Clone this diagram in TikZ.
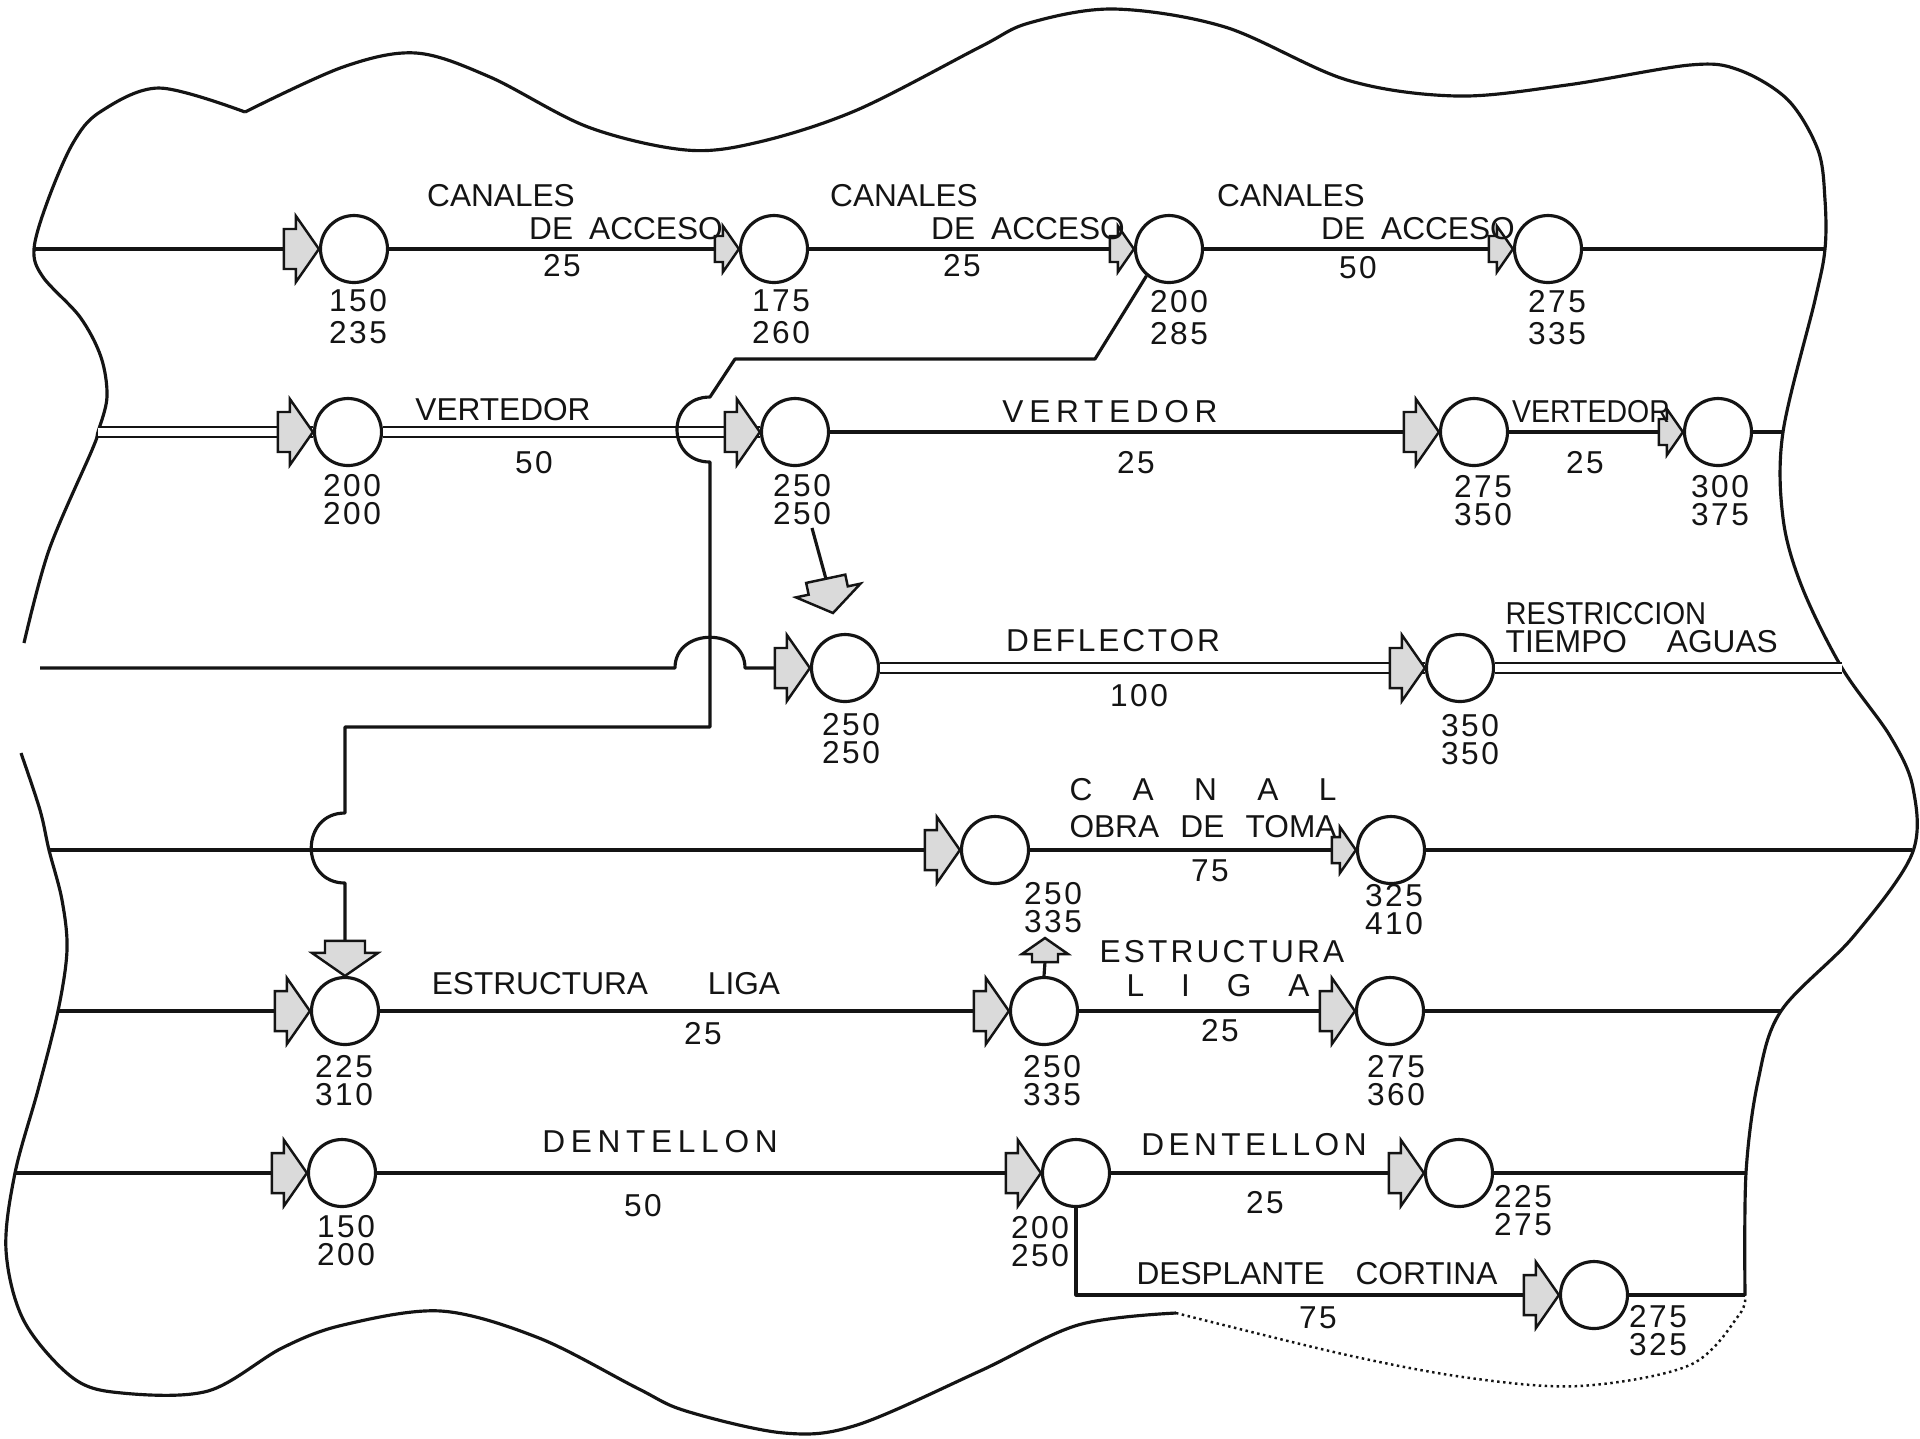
\documentclass[tikz,border=0pt]{standalone}
\usepackage{fontspec}
\newfontfamily\netfont{Liberation Sans}
\newfontfamily\netnumfont[LetterSpace=8]{Liberation Sans}
\definecolor{netInk}{HTML}{141414}
\definecolor{netSpeck}{HTML}{DADADA}
\tikzset{
  every picture/.style={font=\netfont\fontsize{9}{9}\selectfont, text=netInk},
  net event/.style={circle, draw=netInk, line width=0.9pt, fill=white,
    minimum size=6.7mm, inner sep=0pt},
  net line/.style={draw=netInk, line width=0.9pt, line join=round},
  net double/.style={draw=netInk, line width=0.25mm, double=white,
    double distance=0.75mm},
  net border/.style={draw=netInk, line width=0.9pt},
  net faint/.style={draw=netInk, line width=0.7pt, densely dotted},
  net num/.style={font=\netnumfont\fontsize{9}{#1}\selectfont,
    align=center, inner sep=0pt},
  net num/.default=8pt,
  net label/.style={inner sep=0pt},
  net mark/.style={draw=netInk, line width=0.7pt, fill=netSpeck},
  mark big/.pic={\path[net mark] (0,0) -- (-23,33) -- (-23,20) -- (-35,20)
    -- (-35,-20) -- (-23,-20) -- (-23,-33) -- cycle;},
  mark small/.pic={\path[net mark] (0,0) -- (-16,23) -- (-16,13) -- (-24,13)
    -- (-24,-13) -- (-16,-13) -- (-16,-23) -- cycle;}
}

\begin{document}
\begin{tikzpicture}[x=0.1mm,y=-0.1mm]
  \fill[white] (0,0) rectangle (1920,1438);
  \useasboundingbox (0,0) rectangle (1920,1438);

  % outline of the site
  \draw[net border] plot[smooth, tension=0.55] coordinates {(245,112) (159,88)
    (100,112) (73,143) (48,200) (34,249) (43,277) (80,317) (101,357) (107,397)
    (98,432) (92,450) (49,550) (24,643)};
  \draw[net border] plot[smooth, tension=0.55] coordinates {(245,112) (343,67)
    (416,53) (490,77) (588,127) (686,150) (759,142) (857,110) (980,47) (1029,23)
    (1114,9) (1225,27) (1347,80) (1457,96) (1567,85) (1690,65) (1739,70)
    (1788,100) (1818,150) (1825,200) (1825,249) (1815,300) (1783,432) (1783,518)
    (1802,587) (1842,668) (1890,736) (1913,788) (1912,854) (1853,937) (1781,1011)
    (1758,1081) (1746,1173) (1745,1295)};
  \draw[net border] plot[smooth, tension=0.55] coordinates {(21,753) (40,810)
    (49,850) (62,900) (67,950) (58,1011) (38,1090) (15,1173) (6,1250) (24,1321)
    (73,1378) (122,1393) (208,1391) (282,1348) (343,1325) (441,1311) (539,1338)
    (637,1388) (686,1411) (784,1433) (857,1425) (980,1371) (1078,1325) (1176,1313)};
  \draw[net faint] plot[smooth, tension=0.55] coordinates {(1176,1313) (1347,1355)
    (1470,1378) (1580,1386) (1690,1365) (1739,1315) (1745,1295)};

  % events
  \foreach \n/\x/\y in {A1/354/249, A2/774/249, A3/1169/249, A4/1548/249,
      B1/348/432, B2/795/432, B3/1474/432, B4/1718/432,
      C1/845/668, C2/1460/668, D1/995/850, D2/1391/850,
      E1/345/1011, E2/1044/1011, E3/1390/1011,
      F1/342/1173, F2/1076/1173, F3/1459/1173, G1/1594/1295}
    \node[net event] (\n) at (\x,\y) {};

  % free ends on the outline and bends
  \coordinate (aL) at (34,249);   \coordinate (aR) at (1825,249);
  \coordinate (bL) at (98,432);   \coordinate (bR) at (1783,432);
  \coordinate (cL) at (40,668);   \coordinate (cR) at (1842,668);
  \coordinate (dL) at (49,850);   \coordinate (dR) at (1912,850);
  \coordinate (eL) at (58,1011);  \coordinate (eR) at (1781,1011);
  \coordinate (fL) at (15,1173);  \coordinate (fR) at (1746,1173);
  \coordinate (gR) at (1745,1295);
  \coordinate (k1) at (1095,359); \coordinate (k2) at (735,359);
  \coordinate (k3) at (710,397);  \coordinate (k4) at (710,462);
  \coordinate (k5) at (710,727);  \coordinate (k6) at (345,727);
  \coordinate (k7) at (345,813);  \coordinate (k8) at (345,883);
  \coordinate (e1k) at (345,942);
  \coordinate (h1) at (675,668);  \coordinate (h2) at (745,668);
  \coordinate (b2c) at (812,528); \coordinate (c1k) at (826,579);
  \coordinate (c1m) at (833,613);
  \coordinate (e2k) at (1045,962); \coordinate (e2m) at (1045,938);

  % activities
  \foreach \p/\q in {A1/A2, A2/A3, A3/A4, B2/B3, B3/B4, D1/D2,
      E1/E2, E2/E3, F1/F2, F2/F3}
    \draw[net line] (\p.east) -- (\q.west);
  \foreach \c/\n in {aL/A1, dL/D1, eL/E1, fL/F1}
    \draw[net line] (\c) -- (\n.west);
  \foreach \n/\c in {A4/aR, B4/bR, D2/dR, E3/eR, F3/fR, G1/gR}
    \draw[net line] (\n.east) -- (\c);
  \draw[net double] (bL) -- (B1.west);
  \draw[net double] (B1.east) -- (B2.west);
  \draw[net double] (C1.east) -- (C2.west);
  \draw[net double] (C2.east) -- (cR);
  \draw[net line] (cL) -- (h1) .. controls (675,627) and (745,627) .. (h2) -- (C1.west);
  \draw[net line] (F2.south) |- (G1.west);
  \draw[net line] (A3.230) -- (k1) -- (k2) -- (k3)
    .. controls (666,397) and (666,462) .. (k4) -- (k5) -- (k6) -- (k7)
    .. controls (300,813) and (300,883) .. (k8) -- (e1k);
  \draw[net line] (b2c) -- (c1k);
  \draw[net line] (E2.north) -- (e2k);

  % arrow marks
  \foreach \n in {A1,B1,B2,B3,C1,C2,D1,E1,E2,E3,F1,F2,F3,G1}
    \pic at (\n.west) {mark big};
  \foreach \n in {A2,A3,A4,B4,D2}
    \pic at (\n.west) {mark small};
  \pic[rotate=-90] at (E1.north) {mark big};
  \pic[rotate=-78] at (c1m) {mark big};
  \pic[rotate=90] at (e2m) {mark small};

  % event times
  \foreach \n/\x/\y/\s/\a/\b in {A1/358/317/9.1pt/150/235, A2/781/317/9.1pt/175/260,
      A3/1179/318/9.1pt/200/285, A4/1557/318/9.1pt/275/335,
      B1/352/500/8pt/200/200, B2/802/500/8pt/250/250,
      B3/1483/501/8pt/275/350, B4/1720/501/8pt/300/375,
      C1/851/739/8pt/250/250, C2/1470/740/8pt/350/350,
      D1/1053/908/8pt/250/335, D2/1394/910/8pt/325/410,
      E1/344/1081/8pt/225/310, E2/1052/1081/8pt/250/335,
      E3/1396/1081/8pt/275/360,
      F1/346/1241/8pt/150/200, F2/1040/1242/8pt/200/250,
      F3/1523/1211/8pt/225/275, G1/1658/1331/8pt/275/325}
    \node[net num=\s] (t\n) at (\x,\y) {\a\\\b};

  % activity names and durations
  \node[net label] (nA1) at (501,196) {CANALES};
  \node[net label] (nA1b) at (626,229) {DE\hspace{1.6mm}ACCESO};
  \node[net num] (dA1) at (562,266) {25};
  \node[net label] (nA2) at (904,196) {CANALES};
  \node[net label] (nA2b) at (1028,229) {DE\hspace{1.6mm}ACCESO};
  \node[net num] (dA2) at (962,266) {25};
  \node[net label] (nA3) at (1291,196) {CANALES};
  \node[net label] (nA3b) at (1418,229) {DE\hspace{1.6mm}ACCESO};
  \node[net num] (dA3) at (1358,268) {50};

  \node[net label] (nB1) at (503,410) {VERTEDOR};
  \node[net num] (dB1) at (534,463) {50};
  \node[net label] (nB2) at (1110,412) {\addfontfeature{LetterSpace=18}VERTEDOR};
  \node[net num] (dB2) at (1136,463) {25};
  \node[net label] (nB3) at (1591,412) {\scalebox{0.9}[1]{VERTEDOR}};
  \node[net num] (dB3) at (1585,463) {25};

  \node[net label] (nC1) at (1113,641) {\addfontfeature{LetterSpace=9}DEFLECTOR};
  \node[net num] (dC1) at (1139,696) {100};
  \node[net label, anchor=west] (nC2) at (1505,614) {\scalebox{0.92}[1]{RESTRICCION}};
  \node[net label, anchor=west] (nC2b) at (1505,642) {TIEMPO\hspace{4mm}AGUAS};

  \node[net label] (nD1) at (1203,790) {\makebox[26.7mm][s]{C A N A L}};
  \node[net label] (nD1b) at (1203,827) {\makebox[26.7mm][s]{OBRA DE TOMA}};
  \node[net num] (dD1) at (1210,871) {75};

  \node[net label] (nE1) at (606,984) {ESTRUCTURA\hspace{6mm}LIGA};
  \node[net num] (dE1) at (703,1034) {25};
  \node[net label] (nE2) at (1222,952) {\addfontfeature{LetterSpace=10}ESTRUCTURA};
  \node[net label] (nE2b) at (1218,986) {\makebox[18.3mm][s]{L I G A}};
  \node[net num] (dE2) at (1220,1031) {25};

  \node[net label] (nF1) at (660,1142) {\addfontfeature{LetterSpace=18}DENTELLON};
  \node[net num] (dF1) at (643,1206) {50};
  \node[net label] (nF2) at (1254,1145) {\addfontfeature{LetterSpace=14}DENTELLON};
  \node[net num] (dF2) at (1265,1203) {25};
  \node[net label] (nG1) at (1317,1274) {DESPLANTE\hspace{3.1mm}CORTINA};
  \node[net num] (dG1) at (1318,1318) {75};
\end{tikzpicture}
\end{document}
